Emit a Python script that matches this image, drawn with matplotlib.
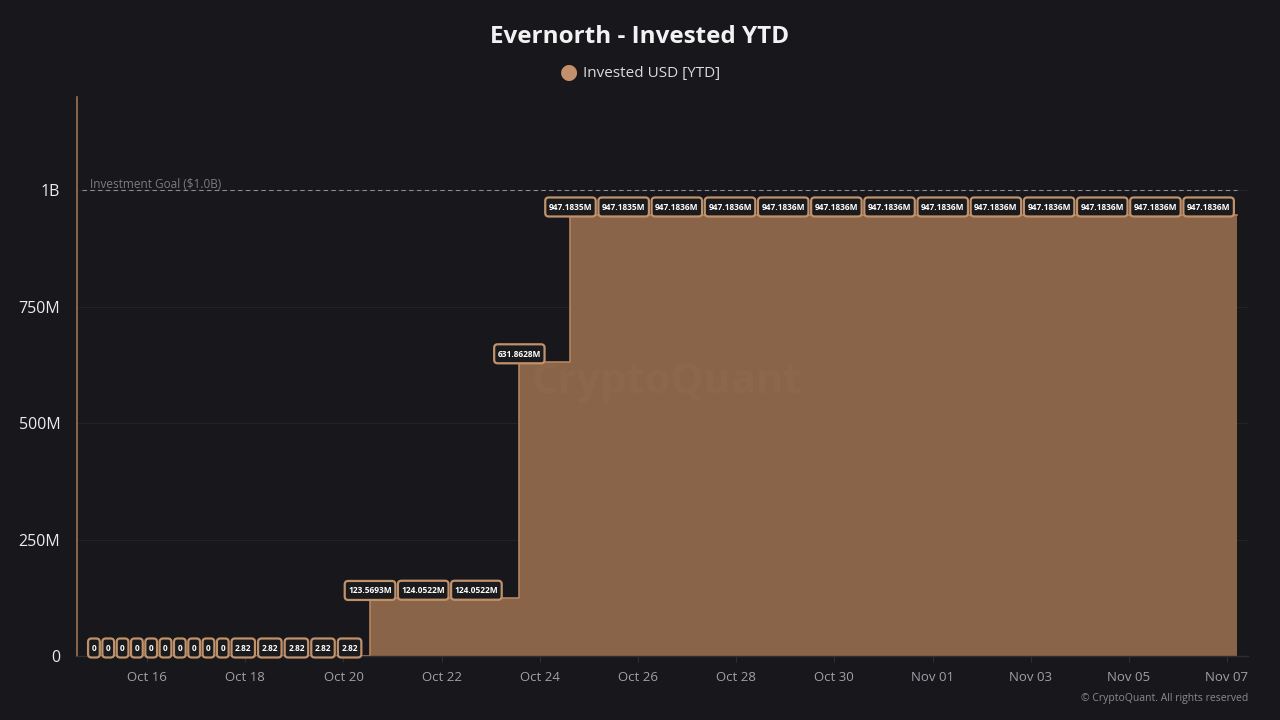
import numpy as np
import pandas as pd
import matplotlib
matplotlib.use("Agg")
import matplotlib.pyplot as plt
import matplotlib.dates as mdates
from matplotlib.patches import FancyBboxPatch
from matplotlib.transforms import IdentityTransform
from matplotlib.ticker import FuncFormatter

# step change points of the invested USD series (value holds until next change)
change_times = pd.to_datetime([
    "2025-10-14 22:00", "2025-10-17 16:00", "2025-10-20 13:00",
    "2025-10-21 00:00", "2025-10-23 14:00", "2025-10-24 15:00",
    "2025-10-26 00:00",
])
change_values = [0, 2.82, 123569300, 124052200, 631862800, 947183500, 947183600]
end_time = pd.Timestamp("2025-11-07 05:00")

goal_value = 1e9
goal_label = "Investment Goal ($1.0B)"
y_ticks = [0, 250e6, 500e6, 750e6, 1e9]
title = "Evernorth - Invested YTD"
series_name = "Invested USD [YTD]"

BG = "#17171c"
FILL = "#8a6448"
EDGE = "#b3845f"
DOT = "#c4906c"
BOX_EDGE = "#c0926c"

plt.rcParams["font.family"] = ["Open Sans", "DejaVu Sans"]

fig = plt.figure(figsize=(12.8, 7.2), dpi=100, facecolor=BG)
ax = fig.add_axes([0.0602, 0.0889, 0.9148, 0.776])
ax.set_facecolor(BG)

xs = list(change_times) + [end_time]
ys = list(change_values) + [change_values[-1]]
ax.fill_between(xs, ys, step="post", color=FILL, lw=0)
ax.plot(xs, ys, drawstyle="steps-post", color=EDGE, lw=1.2)

ax.set_xlim(pd.Timestamp("2025-10-14 13:45"), pd.Timestamp("2025-11-07 10:15"))
ax.set_ylim(0, 1.2e9)

# goal line
ax.plot([pd.Timestamp("2025-10-14 16:00"), end_time], [goal_value, goal_value],
        ls=(0, (4, 3)), color="#8c8c8c", lw=0.8)
ax.annotate(goal_label, (pd.Timestamp("2025-10-14 20:00"), goal_value),
            xytext=(0, 1.5), textcoords="offset points",
            color="#7c7c80", fontsize=8.5, va="baseline", ha="left")

# axes styling
for s in ["top", "right"]:
    ax.spines[s].set_visible(False)
ax.spines["left"].set_color("#9c7456")
ax.spines["left"].set_linewidth(1.2)
ax.spines["bottom"].set_color("#2e2e34")
ax.spines["bottom"].set_linewidth(1)
ax.set_yticks(y_ticks)


def yfmt(v, pos):
    if v == 0:
        return "0"
    if v >= 1e9:
        return f"{v / 1e9:g}B"
    return f"{v / 1e6:g}M"


ax.yaxis.set_major_formatter(FuncFormatter(yfmt))
ax.tick_params(axis="y", length=0, pad=12, labelsize=11.5, labelcolor="#ececec")
ax.grid(axis="y", color="#222227", lw=0.8)
ax.set_axisbelow(True)

ticks = pd.date_range("2025-10-16", "2025-11-07", freq="2D")
ax.set_xticks(ticks)
ax.xaxis.set_major_formatter(mdates.DateFormatter("%b %d"))
ax.tick_params(axis="x", length=4, color="#2e2e34", pad=7, labelsize=9.5,
               labelcolor="#a0a0a6")

# title and legend
fig.text(0.5, 0.948, title, ha="center", va="center", fontsize=17.5,
         fontweight="bold", color="#f2f2f2")
fig.text(0.4445, 0.899, "\u25CF", ha="center", va="center", fontsize=15, color=DOT)
fig.text(0.4555, 0.898, series_name, ha="left", va="center", fontsize=11,
         color="#dcdcdc")

# watermark
ax.text(0.504, 0.49, "CryptoQuant", transform=ax.transAxes, ha="center",
        va="center", fontsize=30, fontweight="bold", color="#ffffff", alpha=0.025)
fig.text(0.975, 0.03, "\u00A9 CryptoQuant. All rights reserved", ha="right",
         va="center", fontsize=7.5, color="#8a8a90")


# data labels: evaluate step series hourly, keep labels that don't collide
def label_fmt(v):
    if v >= 1e6:
        return f"{v / 1e6:.4f}M"
    return f"{v:g}"


lab_font, lab_fs, hpad = "Open Sans", 6.0, 3.5
box_h = 19.0
gap = 1.5

hours = pd.date_range(change_times[0], end_time, freq="h")
idx = np.searchsorted(change_times.values, hours.values, side="right") - 1
hour_vals = np.array(change_values, dtype=float)[idx]

fig.canvas.draw()
renderer = fig.canvas.get_renderer()
widths = {}
placed = []
for t, v in zip(hours, hour_vals):
    s = label_fmt(v)
    if s not in widths:
        probe = fig.text(0, 0, s, fontsize=lab_fs, family=lab_font, fontweight="bold")
        widths[s] = probe.get_window_extent(renderer).width
        probe.remove()
    px, py = ax.transData.transform((mdates.date2num(t), v))
    w = widths[s] + 2 * hpad
    x0, y0 = px - w / 2, py - 1.5
    box = (x0, y0, x0 + w, y0 + box_h)
    clash = any(box[0] < b[2] + gap and box[2] > b[0] - gap and
                box[1] < b[3] and box[3] > b[1] for b in placed)
    if clash:
        continue
    placed.append(box)
    fig.add_artist(FancyBboxPatch((x0, y0), w, box_h,
                                  boxstyle="round,pad=0,rounding_size=3.5",
                                  transform=IdentityTransform(), fc="#1b1b1d",
                                  ec=BOX_EDGE, lw=1.6, zorder=5))
    cap = 0.72 * lab_fs * 100 / 72
    fig.text(px, y0 + box_h / 2 - cap / 2, s, transform=IdentityTransform(),
             ha="center", va="baseline", fontsize=lab_fs, family=lab_font,
             fontweight="bold", color="#ffffff", zorder=6)

fig.savefig("out.png", dpi=100, facecolor=BG)
